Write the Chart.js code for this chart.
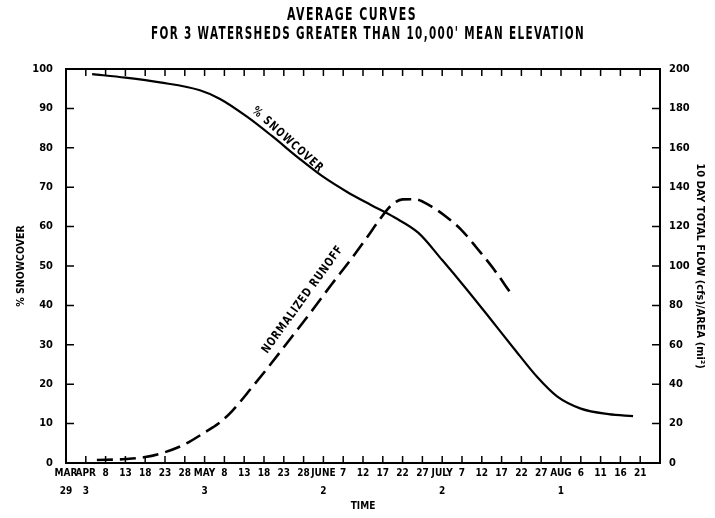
<!DOCTYPE html>
<html><head><meta charset="utf-8">
<script src="https://cdn.jsdelivr.net/npm/chart.js@4.4.1/dist/chart.umd.min.js"></script>
<style>html,body{margin:0;padding:0;background:#fff;}#wrap{width:715px;height:518px;}</style>
</head><body><div id="wrap"><canvas id="c" width="715" height="518"></canvas></div>
<script>
// ---- data ----
const titleLines = ["AVERAGE CURVES", "FOR 3 WATERSHEDS GREATER THAN 10,000' MEAN ELEVATION"];
const xTickDays = [0,5,10,15,20,25,30,35,40,45,50,55,60,65,70,75,80,85,90,95,100,105,110,115,120,125,130,135,140,145];
const xTickLabels = [["MAR","29"],["APR","3"],"8","13","18","23","28",["MAY","3"],"8","13","18","23","28",["JUNE","2"],"7","12","17","22","27",["JULY","2"],"7","12","17","22","27",["AUG","1"],"6","11","16","21"];
// days after March 29
const snowDays = [6.6, 15, 23.7, 33.8, 38.9, 45.7, 52, 59, 65, 71, 77, 83, 89, 95, 101, 107, 113, 119, 124, 130, 137, 143.2];
const snowPct  = [98.7, 97.8, 96.6, 94.6, 92.4, 87.9, 83, 77.2, 72.6, 68.8, 65.5, 62.3, 58.4, 51.5, 44.3, 36.8, 29.2, 21.8, 16.9, 13.8, 12.4, 11.9];
const runDays  = [7.8, 15, 20, 25, 30, 35, 38.5, 42, 47, 52, 57, 62, 67, 72, 76, 79, 82, 85, 88, 92, 96, 100, 104, 108, 112.6];
const runFlow  = [1.5, 2, 3, 5.5, 9.5, 15.5, 20, 26.5, 38.5, 51, 64, 77, 90.5, 103.5, 114.5, 123, 130.5, 133.8, 133.9, 130.5, 125, 118, 108.5, 98.5, 85.3];
const leftTitle = "% SNOWCOVER";
const rightTitle = "10 DAY TOTAL FLOW (cfs)/AREA (mi\u00B2)";
const xTitle = "TIME";
const snowLabel = {text: "% SNOWCOVER", day: 56, value: 82};
const runLabel = {text: "NORMALIZED RUNOFF", day: 59.8, value: 83};

const FONT = "'DejaVu Sans Condensed', 'Liberation Sans Narrow', sans-serif";

const decor = {
  id: 'decor',
  afterDraw(chart) {
    const {ctx, chartArea: a, scales} = chart;
    ctx.save();
    ctx.strokeStyle = '#000';
    ctx.lineWidth = 2;
    ctx.strokeRect(a.left, a.top, a.right - a.left, a.bottom - a.top);
    ctx.lineWidth = 1.5;
    ctx.beginPath();
    scales.x.ticks.forEach(t => {
      const p = scales.x.getPixelForValue(t.value);
      ctx.moveTo(p, a.bottom); ctx.lineTo(p, a.bottom - 7);
      ctx.moveTo(p, a.top); ctx.lineTo(p, a.top + 7);
    });
    scales.y.ticks.forEach(t => {
      const p = scales.y.getPixelForValue(t.value);
      ctx.moveTo(a.left, p); ctx.lineTo(a.left + 8, p);
    });
    scales.y2.ticks.forEach(t => {
      const p = scales.y2.getPixelForValue(t.value);
      ctx.moveTo(a.right, p); ctx.lineTo(a.right - 8, p);
    });
    ctx.stroke();

    // title
    ctx.fillStyle = '#000';
    ctx.textAlign = 'center';
    ctx.textBaseline = 'middle';
    ctx.font = "bold 17px " + FONT;
    ctx.letterSpacing = '2px';
    ctx.fillText(titleLines[0], 352, 16, 130);
    ctx.fillText(titleLines[1], 368, 35, 434);

    // curve labels
    const put = (lab, ys, ang, size, sp, w) => {
      const px = scales.x.getPixelForValue(lab.day);
      const py = ys.getPixelForValue(lab.value);
      ctx.save();
      ctx.translate(px, py);
      ctx.rotate(ang);
      ctx.font = "bold " + size + "px " + FONT;
      ctx.letterSpacing = sp;
      ctx.textAlign = 'center';
      ctx.textBaseline = 'middle';
      ctx.fillText(lab.text, 0, 0, w);
      ctx.restore();
    };
    put(snowLabel, scales.y, 42 * Math.PI / 180, 12, '1.5px', 92);
    put(runLabel, scales.y2, -54 * Math.PI / 180, 12, '1px', 130);
    ctx.restore();
  }
};

const tickFont = {family: FONT, size: 11, weight: 'bold'};

new Chart(document.getElementById('c'), {
  type: 'line',
  data: {
    datasets: [
      {
        data: snowDays.map((d, i) => ({x: d, y: snowPct[i]})),
        yAxisID: 'y', borderColor: '#000', borderWidth: 2.2,
        pointRadius: 0, cubicInterpolationMode: 'monotone', fill: false
      },
      {
        data: runDays.map((d, i) => ({x: d, y: runFlow[i]})),
        yAxisID: 'y2', borderColor: '#000', borderWidth: 2.6, borderDash: [16, 7],
        pointRadius: 0, cubicInterpolationMode: 'monotone', fill: false
      }
    ]
  },
  options: {
    responsive: false,
    animation: false,
    layout: {padding: {top: 69, left: 0, right: 0, bottom: 0}},
    plugins: {legend: {display: false}, title: {display: false}, tooltip: {enabled: false}},
    scales: {
      x: {
        type: 'linear', position: 'bottom', min: 0, max: 150,
        afterBuildTicks: s => { s.ticks = xTickDays.map(v => ({value: v})); },
        afterFit: s => { s.height = 55; },
        grid: {display: false, drawTicks: false},
        border: {display: false},
        ticks: {
          autoSkip: false, maxRotation: 0, minRotation: 0, padding: 1, color: '#000',
          font: {family: FONT, size: 10, weight: 'bold', lineHeight: 1.85},
          callback: (v, i) => xTickLabels[i]
        },
        title: {display: true, text: xTitle, color: '#000', font: {family: FONT, size: 10, weight: 'bold'}, padding: {top: 0, bottom: 6}}
      },
      y: {
        position: 'left', min: 0, max: 100,
        afterFit: s => { s.width = 66; },
        grid: {display: false, drawTicks: false},
        border: {display: false},
        ticks: {stepSize: 10, padding: 13, color: '#000', font: tickFont},
        title: {display: true, text: leftTitle, color: '#000', font: {family: FONT, size: 10.5, weight: 'bold'}, padding: {top: 15, bottom: 0}}
      },
      y2: {
        position: 'right', min: 0, max: 200,
        afterFit: s => { s.width = 55; },
        grid: {display: false, drawTicks: false},
        border: {display: false},
        ticks: {stepSize: 20, padding: 9, color: '#000', font: tickFont},
        title: {display: true, text: rightTitle, color: '#000', font: {family: FONT, size: 11, weight: 'bold'}, padding: {top: 9, bottom: 0}}
      }
    }
  },
  plugins: [decor]
});
</script>
</body></html>
